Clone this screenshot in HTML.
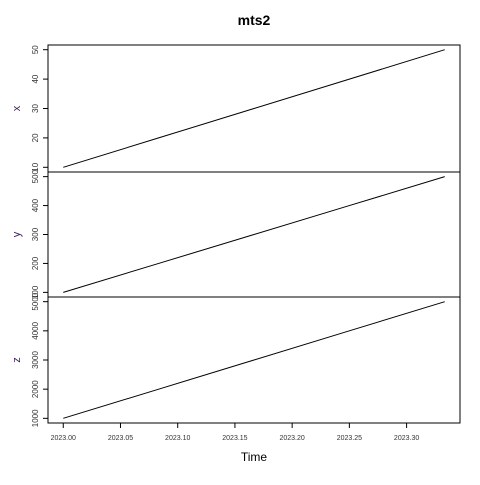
<!DOCTYPE html>
<html><head><meta charset="utf-8"><style>body{margin:0;background:#fff}svg{font-family:"Liberation Sans",sans-serif}</style></head><body>
<svg id="c" width="480" height="480"></svg>
<script>
const times=[2023.0,2023+1/12,2023+2/12,2023+3/12,2023+4/12];
const seriesNames=["x","y","z"];
const xVals=[10,20,30,40,50];
const yVals=[100,200,300,400,500];
const zVals=[1000,2000,3000,4000,5000];
const xTicks=[10,20,30,40,50];
const yTicks=[100,200,300,400,500];
const zTicks=[1000,2000,3000,4000,5000];
const timeTicks=[2023.00,2023.05,2023.10,2023.15,2023.20,2023.25,2023.30];
const svg=document.getElementById('c');const NS="http://www.w3.org/2000/svg";
function mk(t,a,p){const e=document.createElementNS(NS,t);for(const k in a)e.setAttribute(k,a[k]);(p||svg).appendChild(e);return e;}
const L=48,R=460;
const tmin=times[0],tmax=times[times.length-1],tp=(tmax-tmin)*0.04;
const sx=v=>L+(v-(tmin-tp))/((tmax+tp)-(tmin-tp))*(R-L);
const panels=[[45,172,xVals,xTicks],[172,297,yVals,yTicks],[297,423,zVals,zTicks]];
let t=mk('text',{x:254,y:25,'text-anchor':'middle','font-size':14,'font-weight':'bold'});t.textContent="mts2";

panels.forEach((p,i)=>{
 const [top,bot,vals,ticks]=p;const mn=Math.min(...vals),mx=Math.max(...vals),pd=(mx-mn)*0.04;
 const sy=v=>bot-(v-(mn-pd))/((mx+pd)-(mn-pd))*(bot-top);
 const g=mk('g',{});
 mk('rect',{x:L,y:top,width:R-L,height:bot-top,fill:'none',stroke:'#000','stroke-width':1},g);
 ticks.forEach(v=>{const y=sy(v);mk('line',{x1:L-5,x2:L,y1:y,y2:y,stroke:'#000'},g);
  const tx=mk('text',{x:38,y:y,'text-anchor':'middle','font-size':8,fill:'#333',transform:`rotate(-90 38 ${y})`},g);tx.textContent=v;
  });
 const lab=mk('text',{x:17,y:(top+bot)/2+3,'text-anchor':'middle','font-size':11,fill:'#402060',transform:`rotate(-90 17 ${(top+bot)/2})`},g);lab.textContent=seriesNames[i];
 
 const pl=mk('polyline',{points:vals.map((v,j)=>sx(times[j])+','+sy(v)).join(' '),fill:'none',stroke:'#000','stroke-width':1},g);
 
});
const ax=mk('g',{});
mk('line',{x1:sx(timeTicks[0]),x2:sx(timeTicks[timeTicks.length-1]),y1:423,y2:423,stroke:'#000'},ax);
timeTicks.forEach(v=>{const x=sx(v);mk('line',{x1:x,x2:x,y1:423,y2:428,stroke:'#000'},ax);
 const tx=mk('text',{x:x,y:440,'text-anchor':'middle','font-size':7,fill:'#333'},ax);tx.textContent=v.toFixed(2);
 });
const xt=mk('text',{x:254,y:461,'text-anchor':'middle','font-size':12});xt.textContent="Time";

</script></body></html>
